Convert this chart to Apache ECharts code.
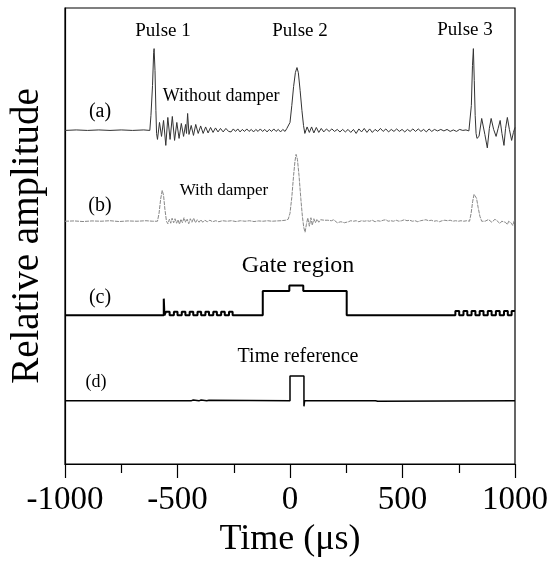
<!DOCTYPE html>
<html lang="en">
<head>
	<meta charset="UTF-8">
	<title>Pulse traces</title>
	<script src="https://cdn.jsdelivr.net/npm/echarts@6/dist/echarts.min.js"></script>
	<style>
		html, body { margin: 0; padding: 0; background: #fff; }
		#chart { width: 553px; height: 563px; }
	</style>
</head>
<body>
	<div id="chart"></div>
	<script>
	// x tick labels
	var xTicks = [-1000, -500, 0, 500, 1000];

	// vertical offset of each trace (baseline)
	var offsets = [33.43, 24.33, 14.9, 6.33];

	// (a) without damper  [time us, relative amplitude]
	var traceA = [
		[-1000,0],[-950,0.05],[-900,0],[-850,0.05],[-800,0],[-750,0.05],[-700,0],[-650,0.05],[-623,0],
		[-618,1.5],[-611,4.5],[-606,7.8],[-604,8.2],[-600,6],[-596,2],[-593,-0.3],
		[-589,-0.9],[-580,0.8],[-571,-0.6],[-562,1.0],[-552,-1.5],[-543,1.3],[-533,-0.9],[-523,1.4],
		[-513,-1.0],[-503,0.8],[-493,-0.8],[-483,0.7],[-473,-0.6],[-464,0.6],[-460,-0.3],[-455,1.7],
		[-449,-0.4],[-439,0.5],[-429,-0.5],[-419,0.6],[-408,-0.3],[-397,0.45],[-386,-0.3],[-375,0.35],
		[-364,-0.25],[-353,0.3],[-342,-0.2],[-331,0.25],[-320,-0.15],[-309,0.2],[-297,-0.15],[-285,0.2],
		[-273,-0.1],[-262,-0.15],[-252,0.15],[-242,-0.1],[-232,0.15],[-222,-0.15],[-212,0.1],
		[-202,-0.1],[-192,0.15],[-182,-0.1],[-172,0.1],[-162,-0.15],[-152,0.1],[-142,-0.1],[-132,0.15],
		[-122,-0.1],[-112,0.1],[-102,-0.15],[-92,0.1],[-82,-0.1],[-72,0.15],[-62,-0.1],[-52,0.1],
		[-42,-0.15],[-32,0.1],[-22,-0.1],[-14,0.2],[-7,0],
		[0,0.8],[8,2.5],[16,4.4],[24,5.8],[31,6.3],[37,5.8],[45,4.0],[53,2.0],[60,0.5],[66,-0.3],
		[76,0.35],[86,-0.2],[96,0.35],[106,-0.25],[117,0.3],[128,-0.2],[139,0.2],[150,-0.15],
		[162,0.15],[174,-0.1],[186,0.15],[198,-0.1],[210,0.1],[222,-0.15],[234,0.1],[246,-0.15],
		[258,0.1],[270,-0.2],[282,0.1],[294,-0.3],[306,0.15],[318,-0.15],[330,0.2],[342,-0.2],
		[354,0.15],[366,-0.2],[378,0.1],[390,-0.1],[402,0.2],[414,-0.1],[426,0.15],[438,-0.15],
		[450,0.1],[462,-0.1],[474,0.15],[486,-0.1],[498,0.1],[510,-0.15],[522,0.1],[534,-0.1],
		[546,0.15],[558,-0.1],[570,0.15],[582,-0.1],[594,0.1],[606,-0.15],[618,0.15],[630,-0.1],
		[642,0.1],[656,-0.05],[670,0.1],[684,-0.05],[698,0.1],[712,-0.1],[726,0.05],[740,-0.1],
		[754,0.1],[768,0],[782,0.05],[795,-0.05],[801,0],
		[806,2.5],[811,6.5],[815,8.2],[819,5],[823,1.5],[827,-0.3],
		[831,-0.8],[840,-0.6],[852,1.2],[866,-0.4],[877,-1.75],[886,0.2],[894,1.2],[905,0.1],
		[916,-0.6],[925,0.2],[934,1.0],[942,-0.3],[951,-1.5],[958,0.2],[966,1.3],[975,0.1],
		[985,-1.0],[993,-0.2],[1000,0.3]
	];

	// (b) with damper
	var traceB = [
		[-1000,0],[-960,0.03],[-920,-0.03],[-880,0.03],[-840,0],[-800,0.05],[-760,-0.03],[-720,0.03],
		[-680,0],[-640,0.05],[-610,0],[-589,0],
		[-582,0.8],[-575,2.2],[-568,3.1],[-562,2.6],[-556,1.2],[-549,0],
		[-543,-0.25],[-536,0.2],[-530,-0.2],[-524,0.3],[-517,-0.15],[-511,0.25],[-504,-0.2],[-498,0.15],
		[-491,-0.3],[-485,0.2],[-478,-0.15],[-471,0.35],[-464,-0.1],[-457,0.2],[-450,-0.25],[-443,0.25],
		[-436,-0.1],[-428,0.3],[-420,-0.15],[-412,0.15],[-404,-0.1],[-396,0.15],[-388,-0.1],[-378,0.1],
		[-368,-0.05],[-356,0.1],[-344,-0.05],[-330,0.05],[-316,-0.05],[-300,0.05],[-280,0],[-260,0.05],
		[-240,-0.03],[-220,0.05],[-200,0],[-180,0.05],[-160,-0.03],[-140,0.03],[-120,0],[-100,0.05],
		[-80,0],[-60,0.03],[-40,0.05],[-20,0.1],[-8,0.2],
		[0,0.8],[8,2.4],[16,4.6],[22,6.0],[27,6.7],[33,6.2],[40,4.6],[48,2.3],[55,0.5],[61,-0.6],
		[67,-1.1],[73,-0.3],[79,0.33],[86,-0.5],[93,0.35],[99,-0.4],[106,0.25],[113,-0.15],
		[120,0.2],[128,-0.1],[136,0.15],[144,-0.05],[152,0.1],[160,-0.05],[168,0.1],[176,-0.05],
		[184,0.05],[194,0.15],[202,-0.05],[210,-0.15],[218,0.05],[226,-0.05],[234,0.1],[242,-0.15],
		[250,0.05],[260,-0.05],[270,0.05],[282,0],[294,0.05],[306,-0.05],[318,0.05],[330,0],
		[342,0.05],[354,0],[366,0.1],[378,-0.05],[390,0.05],[402,0],[414,0.1],[426,0.15],
		[436,0],[448,0.05],[460,0],[472,0.1],[484,0],[496,0.05],[508,0.15],[520,0.05],
		[532,0.1],[544,0],[556,0.05],[568,-0.05],[580,0.05],[592,0.1],[604,0.15],[616,0.05],
		[628,0.1],[640,0],[652,0.05],[664,-0.05],[676,0.05],[688,0.1],[700,0.05],[712,0.1],
		[724,0],[736,0.05],[748,0],[760,0.05],[772,0],[786,0.05],[798,0],
		[805,0.8],[812,2.0],[818,2.7],[823,2.73],[829,2.3],[836,1.4],[844,0.5],[852,0],
		[860,-0.05],[867,0],[875,0.1],[882,0.17],[890,0],[897,-0.1],[904,0.05],[911,0.2],
		[920,0.05],[933,-0.23],[941,0],[948,0.1],[957,-0.1],[966,-0.33],[972,0],[978,0.17],
		[984,-0.2],[990,-0.43],[997,0.1],[1000,0.05]
	];

	// (c) gate region, held levels
	var traceC = [
		[-1000,0],[-561,1.67],[-558,0],
		[-551,0.37],[-535,0],[-516,0.37],[-500,0],[-481,0.37],[-465,0],[-446,0.37],[-430,0],
		[-411,0.37],[-395,0],[-376,0.37],[-360,0],[-341,0.37],[-325,0],[-306,0.37],[-290,0],
		[-271,0.37],[-255,0],[-210,-0.1],[-204,0],
		[-121,2.43],[-3,3.0],[59,2.43],[252,0],
		[735,0.43],[752,0],[771,0.43],[788,0],[807,0.43],[824,0],[843,0.43],[860,0],
		[879,0.43],[896,0],[915,0.43],[932,0],[951,0.43],[968,0],[985,0.43],[1000,0.43]
	];

	// (d) time reference, held levels
	var traceD = [
		[-1000,0],[-440,0.08],[-430,0],[-405,0.08],[-395,0],[-370,0.06],[-360,0],
		[0,2.5],[62,-0.55],[65,0],[380,-0.05],[390,0],[1000,0]
	];

	function shift(trace, k) {
		return trace.map(function (p) { return [p[0], p[1] + offsets[k]]; });
	}

	var serif = '"Liberation Serif", "Times New Roman", serif';

	function label(text, x, y, size) {
		return {
			type: 'text',
			x: x,
			y: y,
			style: {
				text: text,
				fill: '#000',
				font: size + 'px ' + serif,
				align: 'center',
				verticalAlign: 'middle'
			}
		};
	}

	var myChart = echarts.init(document.getElementById('chart'));

	var option = {
		animation: false,
		backgroundColor: '#fff',
		grid: {
			left: 63, right: 38, top: 8, bottom: 98,
			show: true,
			borderColor: '#000',
			borderWidth: 1.2
		},
		xAxis: {
			type: 'value',
			min: -1000,
			max: 1000,
			interval: 500,
			name: 'Time (\u03bcs)',
			nameLocation: 'middle',
			nameGap: 58,
			nameTextStyle: { color: '#000', fontSize: 36, fontFamily: serif },
			axisLine: { onZero: false, lineStyle: { color: '#000', width: 1.2 } },
			axisTick: { show: true, inside: false, length: 14, lineStyle: { color: '#000', width: 1.2 } },
			minorTick: { show: true, splitNumber: 2, length: 9, lineStyle: { color: '#000', width: 1.2 } },
			axisLabel: {
				color: '#000', fontSize: 33, fontFamily: serif, margin: 20,
				formatter: function (v) { return xTicks.indexOf(v) >= 0 ? String(v) : ''; }
			},
			splitLine: { show: false }
		},
		yAxis: {
			type: 'value',
			min: 0,
			max: 45.7,
			name: 'Relative amplitude',
			nameLocation: 'middle',
			nameRotate: 90,
			nameGap: 18,
			nameTextStyle: { color: '#000', fontSize: 39, fontFamily: serif },
			axisLine: { show: true, onZero: false, lineStyle: { color: '#000', width: 1.2 } },
			axisTick: { show: false },
			axisLabel: { show: false },
			splitLine: { show: false }
		},
		series: [
			{
				name: '(a)', type: 'line', showSymbol: false, symbol: 'none',
				data: shift(traceA, 0),
				lineStyle: { color: '#333', width: 1 }
			},
			{
				name: '(b)', type: 'line', showSymbol: false, symbol: 'none',
				data: shift(traceB, 1),
				lineStyle: { color: '#888', width: 1, type: [4, 1] }
			},
			{
				name: '(c)', type: 'line', showSymbol: false, symbol: 'none', step: 'end',
				data: shift(traceC, 2),
				lineStyle: { color: '#000', width: 2 }
			},
			{
				name: '(d)', type: 'line', showSymbol: false, symbol: 'none', step: 'end',
				data: shift(traceD, 3),
				lineStyle: { color: '#000', width: 1.5 }
			}
		],
		graphic: [
			label('Pulse 1', 163, 31, 19),
			label('Pulse 2', 300, 31, 19),
			label('Pulse 3', 465, 30, 19),
			label('Without damper', 221, 96, 18),
			label('With damper', 224, 191, 17),
			label('Gate region', 298, 266, 24),
			label('Time reference', 298, 357, 20),
			label('(a)', 100, 112, 20),
			label('(b)', 100, 206, 20),
			label('(c)', 100, 298, 20),
			label('(d)', 96, 382, 18)
		]
	};

	myChart.setOption(option);
	</script>
</body>
</html>
